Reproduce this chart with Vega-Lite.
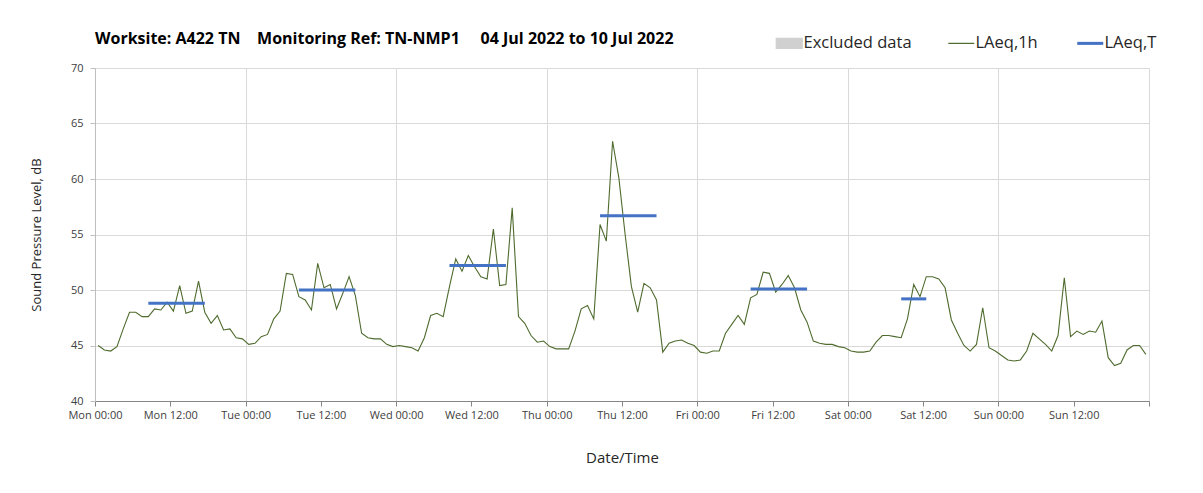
{
  "$schema": "https://vega.github.io/schema/vega-lite/v6.json",
  "width": 1054,
  "height": 333,
  "padding": {"left": 30, "top": 31, "right": 5, "bottom": 5},
  "background": "white",
  "config": {"view": {"stroke": null}, "font": "Open Sans"},
  "title": {
    "text": "Worksite: A422 TN\u00a0\u00a0\u00a0\u00a0Monitoring Ref: TN-NMP1\u00a0\u00a0\u00a0\u00a0\u00a004 Jul 2022 to 10 Jul 2022",
    "anchor": "start",
    "frame": "group",
    "offset": -12,
    "fontSize": 16,
    "fontWeight": "bold",
    "color": "#000000"
  },
  "datasets": {
    "hourly": [
      {"t":"2022-07-04T00:30","v":45.0},{"t":"2022-07-04T01:30","v":44.6},{"t":"2022-07-04T02:30","v":44.5},{"t":"2022-07-04T03:30","v":44.9},
      {"t":"2022-07-04T04:30","v":46.5},{"t":"2022-07-04T05:30","v":48.0},{"t":"2022-07-04T06:30","v":48.0},{"t":"2022-07-04T07:30","v":47.6},
      {"t":"2022-07-04T08:30","v":47.6},{"t":"2022-07-04T09:30","v":48.3},{"t":"2022-07-04T10:30","v":48.2},{"t":"2022-07-04T11:30","v":48.9},
      {"t":"2022-07-04T12:30","v":48.1},{"t":"2022-07-04T13:30","v":50.4},{"t":"2022-07-04T14:30","v":47.9},{"t":"2022-07-04T15:30","v":48.1},
      {"t":"2022-07-04T16:30","v":50.8},{"t":"2022-07-04T17:30","v":48.0},{"t":"2022-07-04T18:30","v":47.0},{"t":"2022-07-04T19:30","v":47.7},
      {"t":"2022-07-04T20:30","v":46.4},{"t":"2022-07-04T21:30","v":46.5},{"t":"2022-07-04T22:30","v":45.7},{"t":"2022-07-04T23:30","v":45.6},
      {"t":"2022-07-05T00:30","v":45.1},{"t":"2022-07-05T01:30","v":45.2},{"t":"2022-07-05T02:30","v":45.8},{"t":"2022-07-05T03:30","v":46.0},
      {"t":"2022-07-05T04:30","v":47.4},{"t":"2022-07-05T05:30","v":48.1},{"t":"2022-07-05T06:30","v":51.5},{"t":"2022-07-05T07:30","v":51.4},
      {"t":"2022-07-05T08:30","v":49.4},{"t":"2022-07-05T09:30","v":49.1},{"t":"2022-07-05T10:30","v":48.2},{"t":"2022-07-05T11:30","v":52.4},
      {"t":"2022-07-05T12:30","v":50.2},{"t":"2022-07-05T13:30","v":50.5},{"t":"2022-07-05T14:30","v":48.3},{"t":"2022-07-05T15:30","v":49.7},
      {"t":"2022-07-05T16:30","v":51.2},{"t":"2022-07-05T17:30","v":49.5},{"t":"2022-07-05T18:30","v":46.1},{"t":"2022-07-05T19:30","v":45.7},
      {"t":"2022-07-05T20:30","v":45.6},{"t":"2022-07-05T21:30","v":45.6},{"t":"2022-07-05T22:30","v":45.1},{"t":"2022-07-05T23:30","v":44.9},
      {"t":"2022-07-06T00:30","v":45.0},{"t":"2022-07-06T01:30","v":44.9},{"t":"2022-07-06T02:30","v":44.8},{"t":"2022-07-06T03:30","v":44.5},
      {"t":"2022-07-06T04:30","v":45.7},{"t":"2022-07-06T05:30","v":47.7},{"t":"2022-07-06T06:30","v":47.9},{"t":"2022-07-06T07:30","v":47.6},
      {"t":"2022-07-06T08:30","v":50.3},{"t":"2022-07-06T09:30","v":52.8},{"t":"2022-07-06T10:30","v":51.7},{"t":"2022-07-06T11:30","v":53.1},
      {"t":"2022-07-06T12:30","v":52.1},{"t":"2022-07-06T13:30","v":51.2},{"t":"2022-07-06T14:30","v":51.0},{"t":"2022-07-06T15:30","v":55.5},
      {"t":"2022-07-06T16:30","v":50.4},{"t":"2022-07-06T17:30","v":50.5},{"t":"2022-07-06T18:30","v":57.4},{"t":"2022-07-06T19:30","v":47.6},
      {"t":"2022-07-06T20:30","v":47.0},{"t":"2022-07-06T21:30","v":45.9},{"t":"2022-07-06T22:30","v":45.3},{"t":"2022-07-06T23:30","v":45.4},
      {"t":"2022-07-07T00:30","v":44.9},{"t":"2022-07-07T01:30","v":44.7},{"t":"2022-07-07T02:30","v":44.7},{"t":"2022-07-07T03:30","v":44.7},
      {"t":"2022-07-07T04:30","v":46.3},{"t":"2022-07-07T05:30","v":48.3},{"t":"2022-07-07T06:30","v":48.6},{"t":"2022-07-07T07:30","v":47.4},
      {"t":"2022-07-07T08:30","v":55.9},{"t":"2022-07-07T09:30","v":54.4},{"t":"2022-07-07T10:30","v":63.4},{"t":"2022-07-07T11:30","v":60.1},
      {"t":"2022-07-07T12:30","v":55.0},{"t":"2022-07-07T13:30","v":50.3},{"t":"2022-07-07T14:30","v":48.0},{"t":"2022-07-07T15:30","v":50.6},
      {"t":"2022-07-07T16:30","v":50.2},{"t":"2022-07-07T17:30","v":49.1},{"t":"2022-07-07T18:30","v":44.4},{"t":"2022-07-07T19:30","v":45.2},
      {"t":"2022-07-07T20:30","v":45.4},{"t":"2022-07-07T21:30","v":45.5},{"t":"2022-07-07T22:30","v":45.2},{"t":"2022-07-07T23:30","v":45.0},
      {"t":"2022-07-08T00:30","v":44.4},{"t":"2022-07-08T01:30","v":44.3},{"t":"2022-07-08T02:30","v":44.5},{"t":"2022-07-08T03:30","v":44.5},
      {"t":"2022-07-08T04:30","v":46.1},{"t":"2022-07-08T05:30","v":46.9},{"t":"2022-07-08T06:30","v":47.7},{"t":"2022-07-08T07:30","v":46.9},
      {"t":"2022-07-08T08:30","v":49.3},{"t":"2022-07-08T09:30","v":49.6},{"t":"2022-07-08T10:30","v":51.6},{"t":"2022-07-08T11:30","v":51.5},
      {"t":"2022-07-08T12:30","v":49.8},{"t":"2022-07-08T13:30","v":50.5},{"t":"2022-07-08T14:30","v":51.3},{"t":"2022-07-08T15:30","v":50.2},
      {"t":"2022-07-08T16:30","v":48.2},{"t":"2022-07-08T17:30","v":47.1},{"t":"2022-07-08T18:30","v":45.4},{"t":"2022-07-08T19:30","v":45.2},
      {"t":"2022-07-08T20:30","v":45.1},{"t":"2022-07-08T21:30","v":45.1},{"t":"2022-07-08T22:30","v":44.9},{"t":"2022-07-08T23:30","v":44.8},
      {"t":"2022-07-09T00:30","v":44.5},{"t":"2022-07-09T01:30","v":44.4},{"t":"2022-07-09T02:30","v":44.4},{"t":"2022-07-09T03:30","v":44.5},
      {"t":"2022-07-09T04:30","v":45.3},{"t":"2022-07-09T05:30","v":45.9},{"t":"2022-07-09T06:30","v":45.9},{"t":"2022-07-09T07:30","v":45.8},
      {"t":"2022-07-09T08:30","v":45.7},{"t":"2022-07-09T09:30","v":47.4},{"t":"2022-07-09T10:30","v":50.5},{"t":"2022-07-09T11:30","v":49.4},
      {"t":"2022-07-09T12:30","v":51.2},{"t":"2022-07-09T13:30","v":51.2},{"t":"2022-07-09T14:30","v":51.0},{"t":"2022-07-09T15:30","v":50.2},
      {"t":"2022-07-09T16:30","v":47.3},{"t":"2022-07-09T17:30","v":46.1},{"t":"2022-07-09T18:30","v":45.0},{"t":"2022-07-09T19:30","v":44.5},
      {"t":"2022-07-09T20:30","v":45.1},{"t":"2022-07-09T21:30","v":48.4},{"t":"2022-07-09T22:30","v":44.8},{"t":"2022-07-09T23:30","v":44.5},
      {"t":"2022-07-10T00:30","v":44.1},{"t":"2022-07-10T01:30","v":43.7},{"t":"2022-07-10T02:30","v":43.6},{"t":"2022-07-10T03:30","v":43.7},
      {"t":"2022-07-10T04:30","v":44.5},{"t":"2022-07-10T05:30","v":46.1},{"t":"2022-07-10T06:30","v":45.6},{"t":"2022-07-10T07:30","v":45.1},
      {"t":"2022-07-10T08:30","v":44.5},{"t":"2022-07-10T09:30","v":45.9},{"t":"2022-07-10T10:30","v":51.1},{"t":"2022-07-10T11:30","v":45.8},
      {"t":"2022-07-10T12:30","v":46.3},{"t":"2022-07-10T13:30","v":46.0},{"t":"2022-07-10T14:30","v":46.3},{"t":"2022-07-10T15:30","v":46.2},
      {"t":"2022-07-10T16:30","v":47.2},{"t":"2022-07-10T17:30","v":43.9},{"t":"2022-07-10T18:30","v":43.2},{"t":"2022-07-10T19:30","v":43.4},
      {"t":"2022-07-10T20:30","v":44.6},{"t":"2022-07-10T21:30","v":45.0},{"t":"2022-07-10T22:30","v":45.0},{"t":"2022-07-10T23:30","v":44.2}
    ],
    "period": [
      {"start": "2022-07-04T08:30", "end": "2022-07-04T17:30", "v": 48.8},
      {"start": "2022-07-05T08:30", "end": "2022-07-05T17:30", "v": 50.0},
      {"start": "2022-07-06T08:30", "end": "2022-07-06T17:30", "v": 52.2},
      {"start": "2022-07-07T08:30", "end": "2022-07-07T17:30", "v": 56.7},
      {"start": "2022-07-08T08:30", "end": "2022-07-08T17:30", "v": 50.1},
      {"start": "2022-07-09T08:30", "end": "2022-07-09T12:30", "v": 49.2}
    ]
  },
  "layer": [
    {
      "data": {"name": "hourly"},
      "mark": {"type": "line", "strokeWidth": 1.1},
      "encoding": {
        "x": {
          "field": "t",
          "type": "temporal",
          "scale": {"domain": [{"year": 2022, "month": 7, "date": 4, "hours": 0}, {"year": 2022, "month": 7, "date": 11, "hours": 0}], "nice": false},
          "axis": {
            "values": [
              {"year": 2022, "month": 7, "date": 4, "hours": 0}, {"year": 2022, "month": 7, "date": 4, "hours": 12},
              {"year": 2022, "month": 7, "date": 5, "hours": 0}, {"year": 2022, "month": 7, "date": 5, "hours": 12},
              {"year": 2022, "month": 7, "date": 6, "hours": 0}, {"year": 2022, "month": 7, "date": 6, "hours": 12},
              {"year": 2022, "month": 7, "date": 7, "hours": 0}, {"year": 2022, "month": 7, "date": 7, "hours": 12},
              {"year": 2022, "month": 7, "date": 8, "hours": 0}, {"year": 2022, "month": 7, "date": 8, "hours": 12},
              {"year": 2022, "month": 7, "date": 9, "hours": 0}, {"year": 2022, "month": 7, "date": 9, "hours": 12},
              {"year": 2022, "month": 7, "date": 10, "hours": 0}, {"year": 2022, "month": 7, "date": 10, "hours": 12},
              {"year": 2022, "month": 7, "date": 11, "hours": 0}
            ],
            "labelExpr": "date(datum.value) === 11 ? '' : timeFormat(datum.value, '%a %H:%M')",
            "labelFontSize": 11,
            "labelColor": "#404040",
            "labelPadding": 3,
            "labelFlush": false,
            "labelOverlap": false,
            "domainColor": "#868686",
            "tickColor": "#868686",
            "tickSize": 5,
            "grid": true,
            "gridColor": "#d9d9d9",
            "gridOpacity": {"condition": {"test": "hours(datum.value) === 12", "value": 0}, "value": 1},
            "title": "Date/Time",
            "titleFontSize": 15,
            "titleFontWeight": "normal",
            "titleColor": "#262626",
            "titlePadding": 30
          }
        },
        "y": {
          "field": "v",
          "type": "quantitative",
          "scale": {"domain": [40, 70], "nice": false, "zero": false},
          "axis": {
            "values": [40, 45, 50, 55, 60, 65, 70],
            "labelFontSize": 11,
            "labelColor": "#404040",
            "labelPadding": 7,
            "domainColor": "#bfbfbf",
            "tickColor": "#bfbfbf",
            "tickSize": 5,
            "grid": true,
            "gridColor": "#d9d9d9",
            "title": "Sound Pressure Level, dB",
            "titleFontSize": 13,
            "titleFontWeight": "normal",
            "titleColor": "#262626",
            "titlePadding": 27
          }
        },
        "color": {
          "datum": "LAeq,1h",
          "type": "nominal",
          "scale": {"domain": ["Excluded data", "LAeq,1h", "LAeq,T"], "range": ["#d0d0d0", "#4f6b2e", "#4472c4"]},
          "legend": {
            "title": null,
            "orient": "none",
            "legendX": 686,
            "legendY": -33,
            "direction": "horizontal",
            "labelFontSize": 16.5,
            "labelColor": "#262626",
            "labelOffset": 6,
            "columnPadding": 33,
            "symbolSize": 676,
            "symbolType": "stroke",
            "encode": {
              "symbols": {
                "update": {
                  "shape": {"signal": "datum.value === 'Excluded data' ? 'M-1,-0.38H1V0.38H-1Z' : 'stroke'"},
                  "fill": {"signal": "datum.value === 'Excluded data' ? '#d0d0d0' : 'transparent'"},
                  "stroke": {"signal": "datum.value === 'Excluded data' ? 'transparent' : (datum.value === 'LAeq,T' ? '#4472c4' : '#4f6b2e')"},
                  "strokeWidth": {"signal": "datum.value === 'LAeq,T' ? 3 : 1.2"}
                }
              }
            }
          }
        }
      }
    },
    {
      "data": {"name": "period"},
      "mark": {"type": "rule", "strokeWidth": 3},
      "encoding": {
        "x": {"field": "start", "type": "temporal"},
        "x2": {"field": "end"},
        "y": {"field": "v", "type": "quantitative"},
        "color": {"datum": "LAeq,T", "type": "nominal"}
      }
    }
  ]
}
